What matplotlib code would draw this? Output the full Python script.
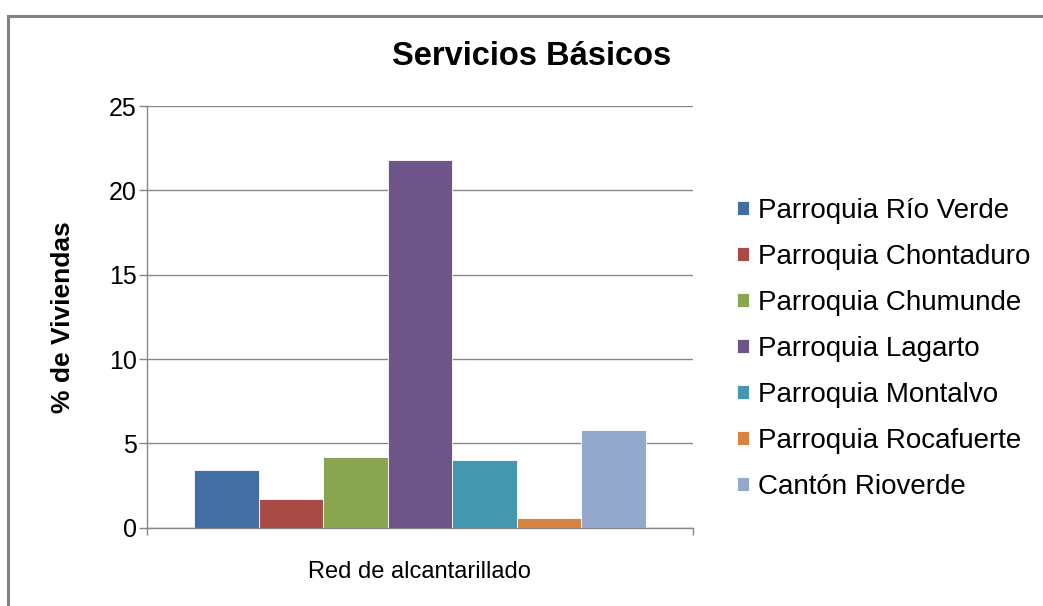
import matplotlib.pyplot as plt
from matplotlib.patches import Rectangle

# Datos
categoria = ['Red de alcantarillado']
series = ['Parroquia Río Verde', 'Parroquia Chontaduro', 'Parroquia Chumunde',
          'Parroquia Lagarto', 'Parroquia Montalvo', 'Parroquia Rocafuerte',
          'Cantón Rioverde']
valores = [3.4, 1.7, 4.2, 21.8, 4.0, 0.6, 5.8]
colores = ['#426EA4', '#A94A46', '#8AA54F', '#6E5589', '#4397AE', '#D8833F', '#94A7CC']
yticks = [0, 5, 10, 15, 20, 25]

plt.rcParams['font.family'] = ['Liberation Sans', 'DejaVu Sans']

fig = plt.figure(figsize=(10.43, 6.06), dpi=100)
ax = fig.add_axes([0.141, 0.129, 0.523, 0.696])

# Borde del área del gráfico
fig.patches.append(Rectangle((0.008, -0.05), 1.1, 1.024, transform=fig.transFigure,
                             fill=False, edgecolor='#808080', linewidth=2.2))

n = len(series)
ancho = 1.0 / n
for i, (nombre, v, c) in enumerate(zip(series, valores, colores)):
    x = -0.5 + ancho * (i + 0.5)
    ax.bar(x, v, width=ancho, color=c, edgecolor='white', linewidth=0.6,
           label=nombre, zorder=3)

lim = 0.604
ax.set_xlim(-lim, lim)
ax.set_ylim(0, 25)
ax.set_yticks(yticks)
ax.set_yticklabels([str(t) for t in yticks], fontsize=18)
ax.set_xticks([0])
ax.set_xticklabels(categoria, fontsize=17)
ax.set_xticks([-lim, lim], minor=True)
ax.tick_params(axis='x', which='major', length=0, pad=24)
ax.tick_params(axis='x', which='minor', length=5, width=1, color='#878787')
ax.tick_params(axis='y', length=6, width=1, color='#878787', pad=1.5)
ax.yaxis.grid(True, color='#878787', linewidth=1, zorder=0)
for s in ['top', 'right']:
    ax.spines[s].set_visible(False)
for s in ['left', 'bottom']:
    ax.spines[s].set_color('#878787')
    ax.spines[s].set_linewidth(1)

ax.set_ylabel('% de Viviendas', fontsize=19, fontweight='bold')
ax.yaxis.set_label_coords(-0.132, 0.5)
fig.text(0.51, 0.906, 'Servicios Básicos', fontsize=23.5, fontweight='bold',
         ha='center', va='center')

fig.legend(loc='center left', bbox_to_anchor=(0.707, 0.424), frameon=False,
           fontsize=20, handlelength=0.4, handleheight=0.4, handletextpad=0.33,
           labelspacing=0.72, borderpad=0, borderaxespad=0)

fig.savefig('out.png', dpi=100)
